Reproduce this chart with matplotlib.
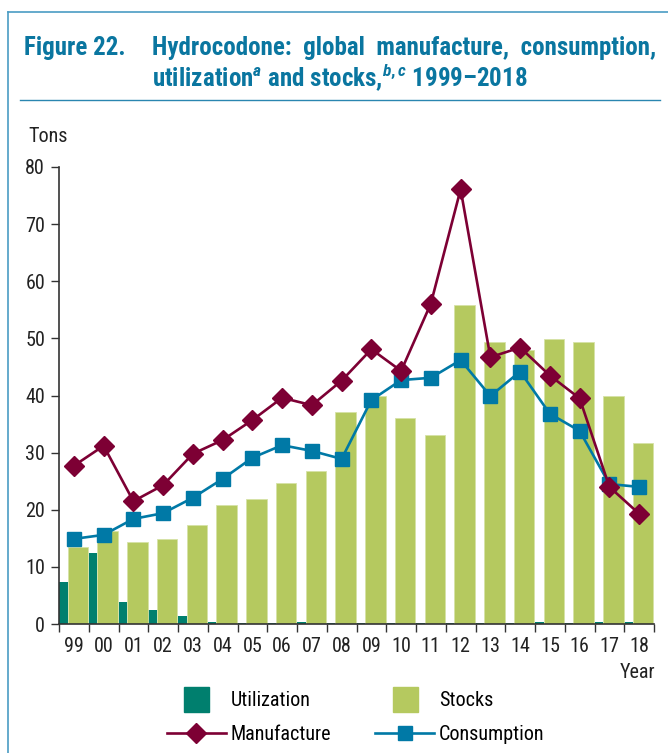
import matplotlib.pyplot as plt
from matplotlib.lines import Line2D
import numpy as np

plt.rcParams['font.family'] = ['Roboto Condensed', 'DejaVu Sans']
plt.rcParams['mathtext.fontset'] = 'custom'
plt.rcParams['mathtext.it'] = 'Roboto Condensed:italic:bold'
plt.rcParams['mathtext.rm'] = 'Roboto Condensed:bold'

# Daten (Tonnen)
years = ['99', '00', '01', '02', '03', '04', '05', '06', '07', '08',
         '09', '10', '11', '12', '13', '14', '15', '16', '17', '18']
utilization = [7.4, 12.4, 3.9, 2.4, 1.4, 0.4, 0.1, 0.1, 0.4, 0.1,
               0.1, 0.1, 0.1, 0.1, 0.1, 0.1, 0.4, 0.1, 0.4, 0.4]
stocks = [13.4, 16.3, 14.3, 14.8, 17.3, 20.8, 21.9, 24.7, 26.8, 37.1,
          40.0, 36.1, 33.1, 55.8, 49.4, 48.0, 49.9, 49.4, 40.0, 31.6]
manufacture = [27.7, 31.2, 21.5, 24.3, 29.8, 32.2, 35.7, 39.6, 38.3, 42.6,
               48.1, 44.3, 56.1, 76.1, 46.7, 48.4, 43.5, 39.5, 24.0, 19.3]
consumption = [14.9, 15.6, 18.4, 19.4, 22.1, 25.4, 29.1, 31.3, 30.3, 28.9,
               39.2, 42.7, 43.1, 46.2, 39.9, 44.2, 36.8, 33.8, 24.5, 24.0]

c_util = '#007f6e'
c_stock = '#b5c95f'
c_manu = '#7d0034'
c_cons = '#0079a6'
c_title = '#0a76a0'

x = np.arange(len(years))

fig = plt.figure(figsize=(6.68, 7.53), dpi=100)
ax = fig.add_axes([59/668, (753-624)/753, 595/668, 457/753])

ax.bar(x - 0.5, utilization, width=0.29, align='edge', color=c_util, zorder=2)
ax.bar(x - 0.21, stocks, width=0.69, align='edge', color=c_stock,
       edgecolor='#d6e2a6', linewidth=0.6, zorder=2)
ax.plot(x, manufacture, color=c_manu, lw=1.9, marker='D', markersize=10.5, zorder=4)
ax.plot(x, consumption, color=c_cons, lw=1.9, marker='s', markersize=10, zorder=3)

ax.set_xlim(-0.5, len(years) - 0.5)
ax.set_ylim(0, 80)
ax.set_yticks(range(0, 81, 10))
ax.set_xticks(np.arange(-0.5, len(years), 1.0))
ax.set_xticklabels([])
ax.set_xticks(x, minor=True)
ax.set_xticklabels(years, minor=True)
ax.tick_params(axis='x', which='minor', length=0, pad=9, labelsize=14.5, colors='#222222')
ax.tick_params(axis='x', which='major', length=6, width=1, color='#333333')
ax.tick_params(axis='y', length=6, width=1, pad=4, labelsize=14.5, colors='#222222', color='#333333')
for s in ['top', 'right']:
    ax.spines[s].set_visible(False)
for s in ['left', 'bottom']:
    ax.spines[s].set_color('#333333')
    ax.spines[s].set_linewidth(1.2)

fig.text(28/668, 1 - 137/753, 'Tons', fontsize=14.5, color='#222222', va='center')
fig.text(655/668, 1 - 673/753, 'Year', fontsize=14.5, color='#222222', va='center', ha='right')

# Titel
fig.text(24/668, 1 - 48/753, 'Figure 22.', fontsize=18, fontweight='bold', color=c_title, va='center')
fig.text(152/668, 1 - 48/753, 'Hydrocodone:  global  manufacture,  consumption,',
         fontsize=18, fontweight='bold', color=c_title, va='center')
fig.text(152/668, 1 - 77/753, r'utilization$^{a}$ and stocks,$^{b,c}$ 1999–2018',
         fontsize=18, fontweight='bold', color=c_title, va='center')

# Rahmen
fig.add_artist(Line2D([8/668, 1], [1 - 12/753, 1 - 12/753], color='#4a9cc4', lw=1.2))
fig.add_artist(Line2D([8/668, 8/668], [0, 1 - 12/753], color='#4a9cc4', lw=1.2))
fig.add_artist(Line2D([20/668, 660/668], [1 - 100/753, 1 - 100/753], color='#2a86b0', lw=1.0))

handles = [
    Line2D([], [], marker='s', markersize=18, linestyle='none', color=c_util),
    Line2D([], [], color=c_manu, lw=1.9, marker='D', markersize=10.5),
    Line2D([], [], marker='s', markersize=18, linestyle='none', color=c_stock),
    Line2D([], [], color=c_cons, lw=1.9, marker='s', markersize=10),
]
labels = ['Utilization', 'Manufacture', 'Stocks', 'Consumption']
fig.legend(handles, labels, ncol=2, loc='lower left', bbox_to_anchor=(149/668, -0.0125),
           frameon=False, fontsize=14.5, handlelength=2.9, handletextpad=0.25,
           columnspacing=2.2, labelspacing=0.75)

plt.savefig('out.png', dpi=100)
